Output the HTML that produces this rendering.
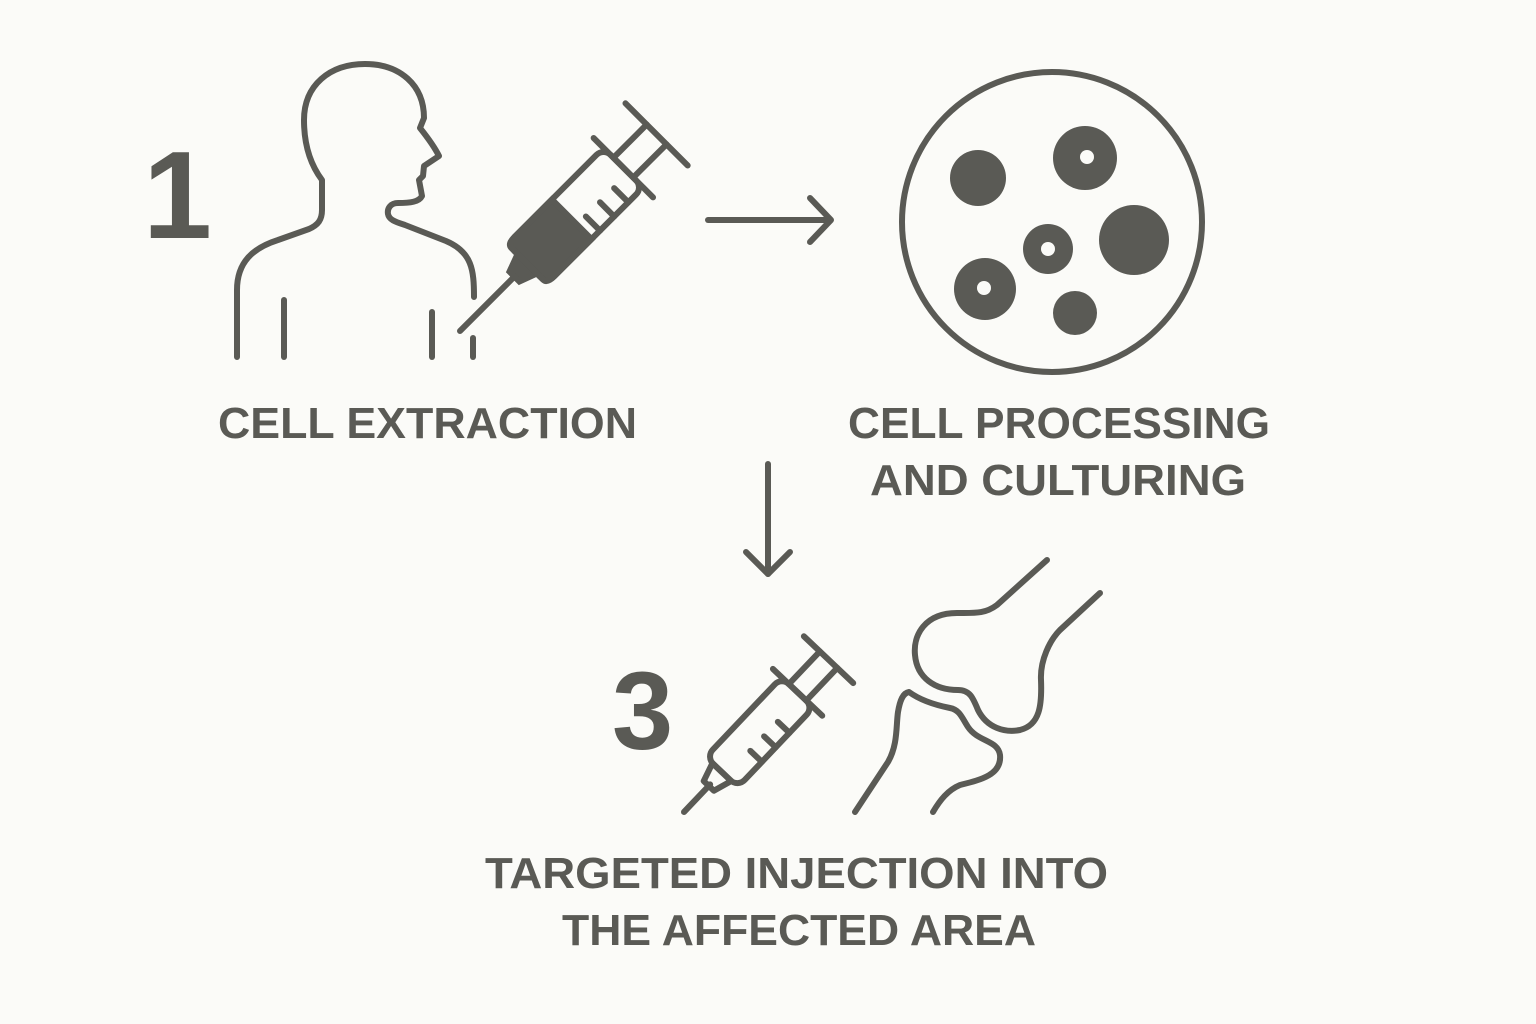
<!DOCTYPE html>
<html><head><meta charset="utf-8"><style>
html,body{margin:0;padding:0;background:#fbfbf8;}
svg{display:block}
text{font-family:"Liberation Sans",sans-serif;font-weight:bold;fill:#5a5a55}
</style></head><body>
<svg width="1536" height="1024" viewBox="0 0 1536 1024" xmlns="http://www.w3.org/2000/svg">
<rect width="1536" height="1024" fill="#fbfbf8"/>
<g fill="none" stroke="#5a5a55" stroke-width="6" stroke-linecap="round" stroke-linejoin="round">
<!-- person -->
<path d="M237 357 L237 290 C237 262 253 248 278 240 L309 229 C318 225 322 220 322 210 L322 180 C313 168 304 150 304 120 C304 85 330 64 365 64 C400 64 424 85 424 118 L420 128 C428 138 435 148 439 156 L424 166 L423 176 L419 180 L422 196 C419 202 410 203 398 203 C391 203 387 208 388 214 C389 220 396 222 405 225 L446 241 C472 252 474 270 474 297"/>
<line x1="284" y1="300" x2="284" y2="357"/>
<line x1="432" y1="312" x2="432" y2="357"/>
<line x1="473" y1="338" x2="473" y2="357"/>
<!-- arrows -->
<line x1="708" y1="220" x2="830" y2="220"/>
<polyline points="810,198 831,220 810,242"/>
<line x1="768" y1="464" x2="768" y2="574"/>
<polyline points="746,552 768,574 790,552"/>
<!-- dish -->
<circle cx="1052" cy="222" r="150"/>
<!-- joint -->
<path d="M1047 560 L997 605 C985 614 975 613 957 613 C925 613 913 635 915 655 C917 678 935 690 958 690 C970 690 973 698 978 710 C987 728 1005 733 1020 730 C1040 725 1042 705 1041 680 C1040 660 1050 640 1060 630 L1100 593"/>
<path d="M855 812 L888 762 C898 745 896 725 898 712 C900 700 903 693 909 692 C920 700 935 705 950 708 C960 710 962 718 968 727 C978 742 998 740 1000 755 C1002 775 980 780 960 785 C948 790 940 800 933 812"/>
</g>
<!-- cells -->
<g fill="#5a5a55">
<circle cx="978" cy="178" r="28"/>
<circle cx="1085" cy="158" r="32"/>
<circle cx="1134" cy="240" r="35"/>
<circle cx="1048" cy="249" r="25"/>
<circle cx="985" cy="289" r="31"/>
<circle cx="1075" cy="313" r="22"/>
</g>
<g fill="#fbfbf8">
<circle cx="1087" cy="157" r="7"/>
<circle cx="1048" cy="249" r="7"/>
<circle cx="984" cy="288" r="7"/>
</g>
<!-- syringe 1 -->
<g transform="translate(460,331) rotate(-45)" stroke="#5a5a55" stroke-width="6" stroke-linecap="round" fill="none">
<line x1="0" y1="0" x2="80" y2="0"/>
<path d="M77 -7 L96 -14 L96 14 L77 7 Z" fill="#5a5a55"/>
<rect x="95" y="-28" width="136" height="56" rx="10"/>
<path d="M95 -22 Q95 -28 105 -28 L158 -28 L158 28 L105 28 Q95 28 95 22 Z" fill="#5a5a55"/>
<line x1="170" y1="28" x2="170" y2="8"/>
<line x1="190" y1="28" x2="190" y2="8"/>
<line x1="210" y1="28" x2="210" y2="8"/>
<line x1="231" y1="-42" x2="231" y2="42"/>
<line x1="231" y1="-14" x2="278" y2="-14"/>
<line x1="231" y1="14" x2="278" y2="14"/>
<line x1="278" y1="-44" x2="278" y2="44"/>
</g>
<!-- syringe 3 -->
<g transform="translate(684,812) rotate(-46.5)" stroke="#5a5a55" stroke-width="6" stroke-linecap="round" stroke-linejoin="round" fill="none">
<line x1="0" y1="0" x2="38" y2="0"/>
<path d="M36 -7 L55 -13 L55 13 L36 7 Z"/>
<rect x="55" y="-22" width="110" height="44" rx="10"/>
<line x1="90" y1="22" x2="90" y2="6"/>
<line x1="110" y1="22" x2="110" y2="6"/>
<line x1="130" y1="22" x2="130" y2="6"/>
<line x1="165" y1="-34" x2="165" y2="34"/>
<line x1="165" y1="-12" x2="210" y2="-12"/>
<line x1="165" y1="12" x2="210" y2="12"/>
<line x1="210" y1="-34" x2="210" y2="34"/>
</g>
<!-- text -->
<text x="143" y="238" font-size="124">1</text>
<text x="612" y="749" font-size="110">3</text>
<text x="218" y="438" font-size="44" textLength="419" lengthAdjust="spacingAndGlyphs">CELL EXTRACTION</text>
<text x="848" y="438" font-size="44" textLength="422" lengthAdjust="spacingAndGlyphs">CELL PROCESSING</text>
<text x="870" y="495" font-size="44" textLength="376" lengthAdjust="spacingAndGlyphs">AND CULTURING</text>
<text x="485" y="888" font-size="44" textLength="623" lengthAdjust="spacingAndGlyphs">TARGETED INJECTION INTO</text>
<text x="562" y="945" font-size="44" textLength="474" lengthAdjust="spacingAndGlyphs">THE AFFECTED AREA</text>
</svg>
</body></html>
